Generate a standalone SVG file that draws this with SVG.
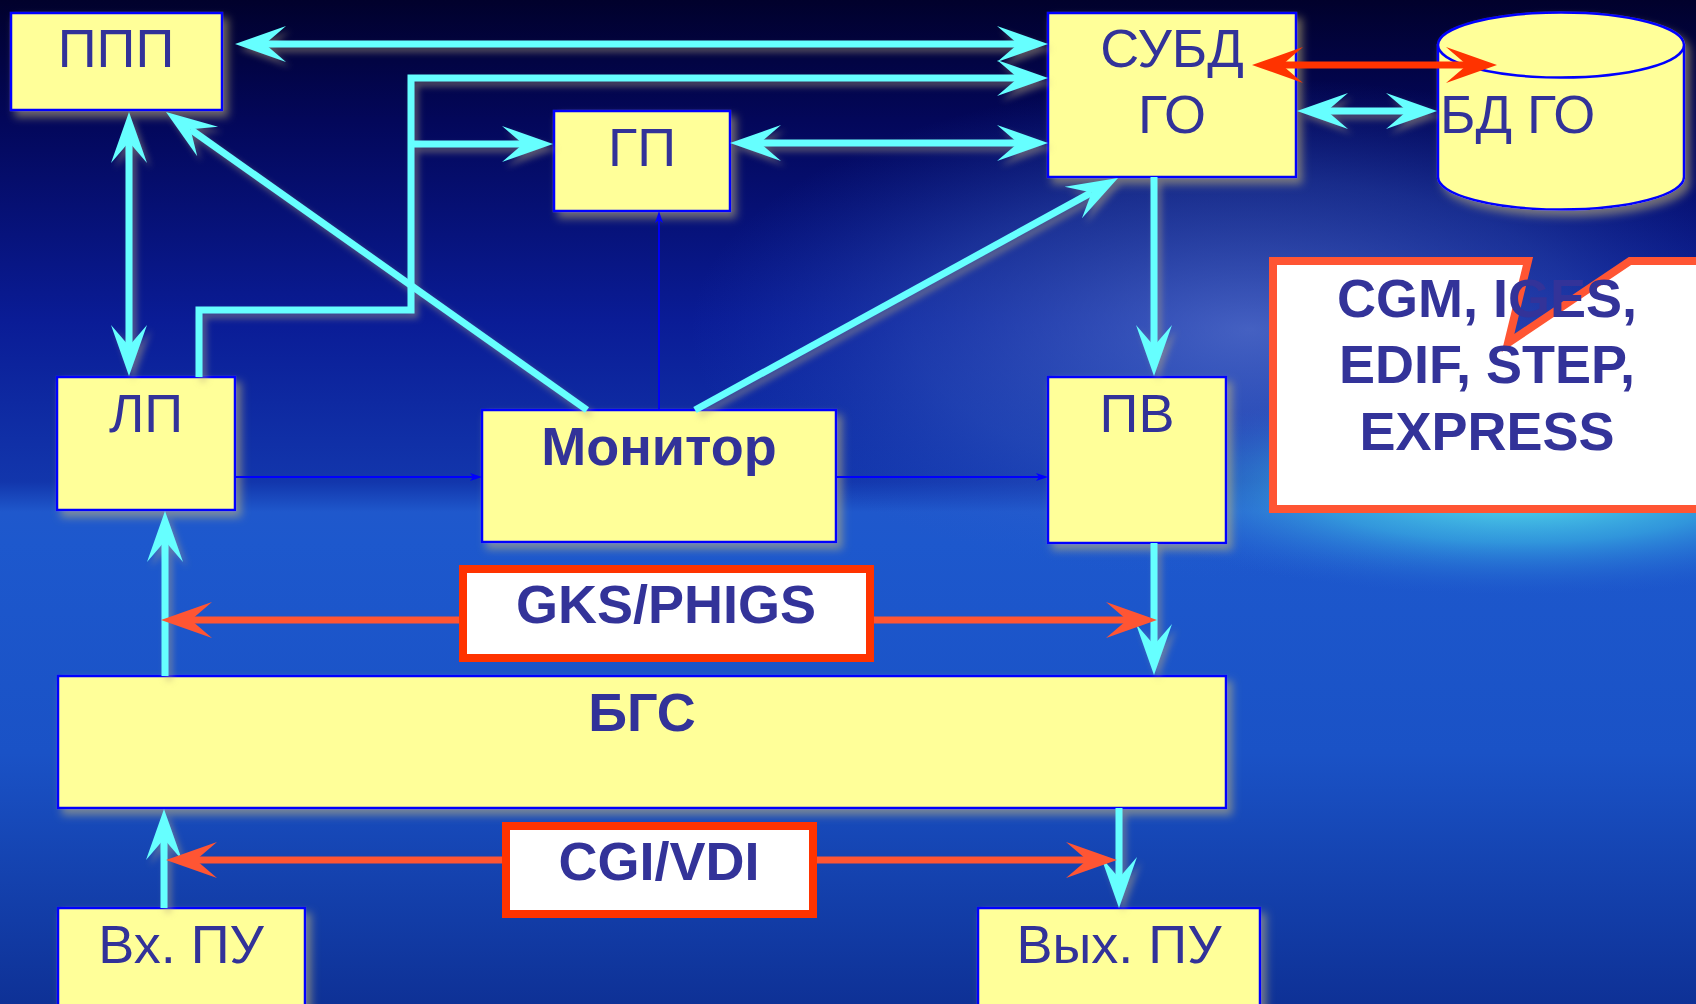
<svg xmlns="http://www.w3.org/2000/svg" width="1696" height="1004" viewBox="0 0 1696 1004">
<defs>
  <linearGradient id="bg" x1="0" y1="0" x2="0" y2="1">
    <stop offset="0" stop-color="#01012c"/>
    <stop offset="0.12" stop-color="#03075a"/>
    <stop offset="0.32" stop-color="#0a1c96"/>
    <stop offset="0.48" stop-color="#1236ac"/>
    <stop offset="0.51" stop-color="#1f58cc"/>
    <stop offset="0.54" stop-color="#1d58cd"/>
    <stop offset="0.75" stop-color="#1a52c6"/>
    <stop offset="1" stop-color="#0e3196"/>
  </linearGradient>
  <radialGradient id="glow" cx="1520" cy="490" r="420" gradientUnits="userSpaceOnUse" gradientTransform="translate(1520 490) scale(1 0.25) translate(-1520 -490)">
    <stop offset="0" stop-color="#60f4f0" stop-opacity="0.95"/>
    <stop offset="0.5" stop-color="#40c8e8" stop-opacity="0.55"/>
    <stop offset="1" stop-color="#2a6ad6" stop-opacity="0"/>
  </radialGradient>
  <radialGradient id="cloud" cx="1250" cy="330" r="560" gradientUnits="userSpaceOnUse" gradientTransform="translate(1250 330) scale(1 0.45) translate(-1250 -330)">
    <stop offset="0" stop-color="#7fa4ec" stop-opacity="0.5"/>
    <stop offset="0.6" stop-color="#4a7ad8" stop-opacity="0.28"/>
    <stop offset="1" stop-color="#2a5ad0" stop-opacity="0"/>
  </radialGradient>
  <filter id="sh" filterUnits="userSpaceOnUse" x="0" y="0" width="1696" height="1004">
    <feDropShadow dx="5" dy="6" stdDeviation="4" flood-color="#c8b878" flood-opacity="0.55"/>
  </filter>
  <filter id="gl" filterUnits="userSpaceOnUse" x="0" y="0" width="1696" height="1004">
    <feDropShadow dx="4" dy="5" stdDeviation="3" flood-color="#b8a880" flood-opacity="0.45"/>
  </filter>
  <marker id="ac" viewBox="-22 -19 54 38" refX="0" refY="0" markerWidth="54" markerHeight="38" markerUnits="userSpaceOnUse" orient="auto-start-reverse">
    <path d="M30,0 L-21,-18 L0,0 L-21,18 Z" fill="#66FFFF"/>
  </marker>
  <marker id="ar" viewBox="-22 -19 54 38" refX="0" refY="0" markerWidth="54" markerHeight="38" markerUnits="userSpaceOnUse" orient="auto-start-reverse">
    <path d="M30,0 L-21,-18 L0,0 L-21,18 Z" fill="#FF5533"/>
  </marker>
  <marker id="ar2" viewBox="-22 -19 54 38" refX="0" refY="0" markerWidth="54" markerHeight="38" markerUnits="userSpaceOnUse" orient="auto-start-reverse">
    <path d="M30,0 L-21,-18 L0,0 L-21,18 Z" fill="#FF3300"/>
  </marker>
  <marker id="ab" viewBox="-10 -5 14 10" refX="0" refY="0" markerWidth="14" markerHeight="10" markerUnits="userSpaceOnUse" orient="auto">
    <path d="M3,0 L-9,-4 L-6,0 L-9,4 Z" fill="#0000FF"/>
  </marker>
  <style>
    .box { fill: #FFFF99; stroke: #0000FF; stroke-width: 2.5; }
    .t { font-family: "Liberation Sans", Arial, sans-serif; font-size: 54px; fill: #333399; text-anchor: middle; }
    .b { font-weight: bold; }
    .cy { fill: none; stroke: #66FFFF; stroke-width: 7; marker-end: url(#ac); }
    .cy2 { marker-start: url(#ac); }
    .rd { fill: none; stroke: #FF5533; stroke-width: 7; marker-end: url(#ar); }
    .thin { fill: none; stroke: #0000FF; stroke-width: 1.8; marker-end: url(#ab); }
    .lbl { fill: #FFFFFF; stroke: #FF3300; stroke-width: 8; }
  </style>
</defs>

<g id="background">
  <rect x="0" y="0" width="1696" height="1004" fill="url(#bg)"/>
  <rect x="0" y="0" width="1696" height="1004" fill="url(#cloud)"/>
  <rect x="0" y="300" width="1696" height="400" fill="url(#glow)"/>
</g>

<g id="nodes" filter="url(#sh)">
  <g id="ppp"><rect class="box" x="11" y="13" width="211" height="97"/><text class="t" x="116" y="67">ППП</text></g>
  <g id="subd"><rect class="box" x="1048" y="13" width="248" height="164"/><text class="t" x="1172" y="67">СУБД</text><text class="t" x="1172" y="133">ГО</text></g>
  <g id="gp"><rect class="box" x="554" y="111" width="176" height="100"/><text class="t" x="642" y="166">ГП</text></g>
  <g id="bdgo">
    <path class="box" d="M1438,45 L1438,177 A123,32.5 0 0 0 1684,177 L1684,45 Z"/>
    <ellipse class="box" cx="1561" cy="45" rx="123" ry="32.5"/>
    <text class="t" x="1440" y="133" style="text-anchor:start">БД ГО</text>
  </g>
  <g id="lp"><rect class="box" x="57" y="377" width="178" height="133"/><text class="t" x="146" y="432">ЛП</text></g>
  <g id="monitor"><rect class="box" x="482" y="410" width="354" height="132"/><text class="t b" x="659" y="465">Монитор</text></g>
  <g id="pv"><rect class="box" x="1048" y="377" width="178" height="166"/><text class="t" x="1137" y="432">ПВ</text></g>
  <g id="bgs"><rect class="box" x="58" y="676" width="1168" height="132"/><text class="t b" x="642" y="731">БГС</text></g>
  <g id="vxpu"><rect class="box" x="58" y="908" width="247" height="110"/><text class="t" x="181" y="963">Вх. ПУ</text></g>
  <g id="vyxpu"><rect class="box" x="978" y="908" width="282" height="110"/><text class="t" x="1119" y="963">Вых. ПУ</text></g>
</g>

<g id="connectors">
  <g filter="url(#gl)">
    <path class="cy cy2" d="M265,44 L1018,44"/>
    <path class="cy" d="M199,377 L199,310 L411,310 L411,78 L1018,78"/>
    <path class="cy" d="M411,144 L523,144"/>
    <path class="cy cy2" d="M129,142 L129,346"/>
    <path class="cy" d="M587,410 L190.5,129.3"/>
    <path class="cy cy2" d="M760,143 L1018,143"/>
    <path class="cy" d="M695,410 L1091.7,192.4"/>
    <path class="cy" d="M1154,177 L1154,346"/>
    <path class="cy cy2" d="M1327,111 L1407,111"/>
    <path class="cy" d="M1154,543 L1154,645"/>
    <path class="cy" d="M165,676 L165,541"/>
    <path class="cy" d="M164,908 L164,839"/>
    <path class="cy" d="M1119,808 L1119,878"/>
  </g>
  <path class="thin" d="M235,477 L479,477"/>
  <path class="thin" d="M836,477 L1045,477"/>
  <path class="thin" d="M659,410 L659,214"/>
  <path class="rd" d="M1282,65 L1467,65" style="stroke:#FF3300;marker-end:url(#ar2);marker-start:url(#ar2)"/>
  <path class="rd" d="M459,620 L191,620"/>
  <path class="rd" d="M874,620 L1127,620"/>
  <path class="rd" d="M502,860 L196,860"/>
  <path class="rd" d="M817,860 L1087,860"/>
</g>

<g id="gks">
  <rect class="lbl" x="463" y="569" width="407" height="89"/>
  <text class="t b" x="666" y="623">GKS/PHIGS</text>
</g>
<g id="cgi">
  <rect class="lbl" x="506" y="826" width="307" height="88"/>
  <text class="t b" x="659" y="880">CGI/VDI</text>
</g>
<g id="formats">
  <path d="M1273,261 L1528,261 L1508,343 L1630,261 L1710,261 L1710,509 L1273,509 Z" fill="#FFFFFF" stroke="#FF5533" stroke-width="8" stroke-linejoin="miter"/>
  <text class="t b" x="1487" y="317">CGM, IGES,</text>
  <text class="t b" x="1487" y="383">EDIF, STEP,</text>
  <text class="t b" x="1487" y="450">EXPRESS</text>
</g>
</svg>
